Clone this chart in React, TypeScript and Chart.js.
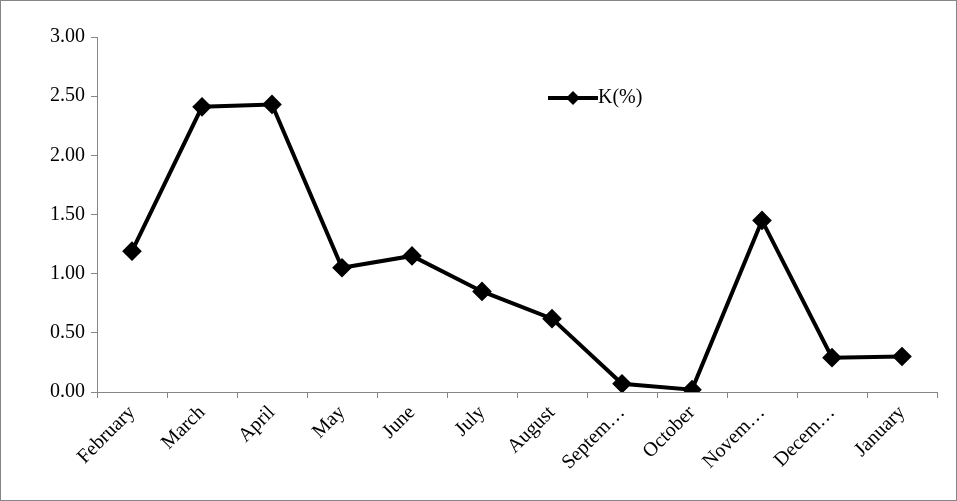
import React, { useEffect, useRef } from 'react';
import { Chart, registerables } from 'chart.js';

Chart.register(...registerables);

const months = ['February', 'March', 'April', 'May', 'June', 'July', 'August', 'Septem…', 'October', 'Novem…', 'Decem…', 'January'];
const kValues = [1.19, 2.41, 2.43, 1.05, 1.15, 0.85, 0.62, 0.07, 0.02, 1.45, 0.29, 0.30];
const seriesLabel = 'K(%)';

const FONT = '"Liberation Serif", "Times New Roman", serif';

const framePlugin = {
  id: 'frame',
  afterDraw(chart: Chart) {
    const { ctx, width, height } = chart;
    ctx.save();
    ctx.strokeStyle = '#868686';
    ctx.lineWidth = 1;
    ctx.strokeRect(0.5, 0.5, width - 1, height - 1);
    // legend inside the plot
    const lx = 548, ly = 98;
    ctx.strokeStyle = '#000';
    ctx.lineWidth = 4;
    ctx.beginPath();
    ctx.moveTo(lx, ly);
    ctx.lineTo(lx + 50, ly);
    ctx.stroke();
    ctx.fillStyle = '#000';
    ctx.beginPath();
    ctx.moveTo(lx + 25, ly - 7);
    ctx.lineTo(lx + 32, ly);
    ctx.lineTo(lx + 25, ly + 7);
    ctx.lineTo(lx + 18, ly);
    ctx.closePath();
    ctx.fill();
    ctx.font = `20px ${FONT}`;
    ctx.textBaseline = 'middle';
    ctx.fillText(seriesLabel, lx + 50, ly);
    ctx.restore();
  },
};

export default function App() {
  const canvasRef = useRef<HTMLCanvasElement>(null);
  const chartRef = useRef<Chart | null>(null);

  useEffect(() => {
    if (!canvasRef.current) return;
    chartRef.current = new Chart(canvasRef.current, {
      type: 'line',
      data: {
        labels: months,
        datasets: [{
          label: seriesLabel,
          data: kValues,
          borderColor: '#000',
          backgroundColor: '#000',
          borderWidth: 4,
          pointStyle: 'rectRot',
          pointRadius: 7,
          pointBackgroundColor: '#000',
          tension: 0,
        }],
      },
      options: {
        animation: false,
        responsive: false,
        layout: { padding: { top: 37, right: 20, left: 0, bottom: 0 } },
        plugins: { legend: { display: false }, tooltip: { enabled: false } },
        scales: {
          x: {
            offset: true,
            grid: { display: true, drawOnChartArea: false, drawTicks: true, tickLength: 6, color: '#868686', offset: true },
            border: { color: '#868686' },
            ticks: { color: '#000', font: { family: FONT, size: 20 }, maxRotation: 45, minRotation: 45, autoSkip: false },
            afterFit: (s: any) => { s.height = 109; },
          },
          y: {
            min: 0,
            max: 3,
            grid: { display: true, drawOnChartArea: false, drawTicks: true, tickLength: 6, color: '#868686' },
            border: { color: '#868686' },
            ticks: { stepSize: 0.5, padding: 6, color: '#000', font: { family: FONT, size: 20 }, callback: (v: any) => Number(v).toFixed(2) },
            afterFit: (s: any) => { s.width = 97; },
          },
        },
      },
      plugins: [framePlugin],
    });
    return () => {
      chartRef.current?.destroy();
      chartRef.current = null;
    };
  }, []);

  return (
    <div style={{ position: 'fixed', left: 0, top: 0, width: 957, height: 501, background: '#fff' }}>
      <canvas ref={canvasRef} width={957} height={501} />
    </div>
  );
}
